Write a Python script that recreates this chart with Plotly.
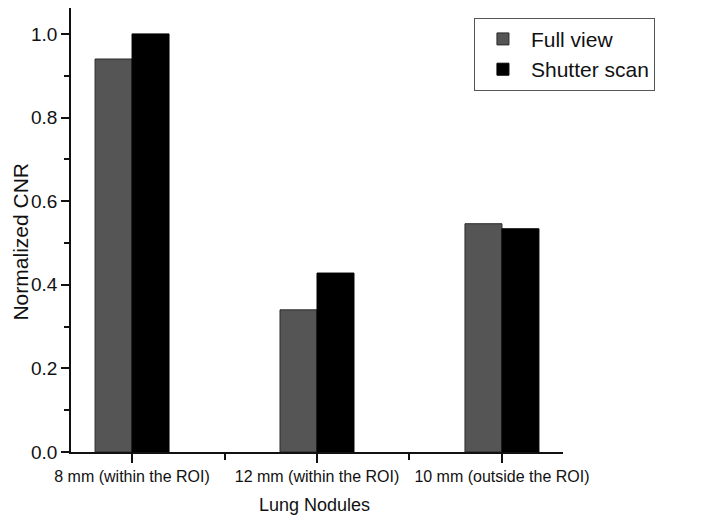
import plotly.graph_objects as go

# 폐결절 종류
categories = ["8 mm (within the ROI)", "12 mm (within the ROI)", "10 mm (outside the ROI)"]
full_view = [0.94, 0.34, 0.546]
shutter_scan = [1.0, 0.428, 0.534]

x_pos = list(range(len(categories)))

fig = go.Figure(
    data=[
        go.Bar(
            x=x_pos,
            y=full_view,
            name="Full view",
            marker=dict(color="#555555", line=dict(color="#2a2a2a", width=1)),
        ),
        go.Bar(
            x=x_pos,
            y=shutter_scan,
            name="Shutter scan",
            marker=dict(color="#000000", line=dict(color="#000000", width=1)),
        ),
    ]
)

# 페이지 body 여백(8px) 고려해서 크기 축소
fig.update_layout(
    width=693,
    height=508,
    barmode="group",
    bargap=0.6,
    bargroupgap=0,
    plot_bgcolor="white",
    paper_bgcolor="white",
    font=dict(family="Liberation Sans, Arial", size=16, color="#111111"),
    margin=dict(l=63, r=138, t=0, b=64),
    showlegend=True,
    legend=dict(
        x=0.819,
        y=0.978,
        xanchor="left",
        yanchor="top",
        bordercolor="#555555",
        borderwidth=1,
        font=dict(size=21),
        itemwidth=46,
        tracegroupgap=0,
    ),
    # 축 제목은 annotation 으로 직접 배치
    annotations=[
        dict(
            text="Normalized CNR",
            x=0,
            y=0.474,
            xref="paper",
            yref="paper",
            xanchor="center",
            yanchor="middle",
            xshift=-50,
            textangle=-90,
            showarrow=False,
            borderpad=0,
            font=dict(size=21),
        ),
        dict(
            text="Lung Nodules",
            x=0.495,
            y=0,
            xref="paper",
            yref="paper",
            xanchor="center",
            yanchor="middle",
            yshift=-53,
            showarrow=False,
            font=dict(size=18),
        ),
    ],
)

fig.update_xaxes(
    range=[-0.33, 2.33],
    tickvals=x_pos,
    ticktext=categories,
    automargin=False,
    showline=True,
    linecolor="#111111",
    linewidth=1.5,
    ticks="outside",
    ticklen=9,
    tickwidth=1.5,
    tickcolor="#111111",
    minor=dict(tickvals=[0.5, 1.5], ticks="outside", ticklen=6, tickwidth=1.5, tickcolor="#111111"),
    showgrid=False,
    zeroline=False,
)

fig.update_yaxes(
    range=[0, 1.062],
    tickvals=[0, 0.2, 0.4, 0.6, 0.8, 1.0],
    tickformat=".1f",
    tickfont=dict(size=19),
    automargin=False,
    showline=True,
    linecolor="#111111",
    linewidth=1.5,
    ticks="outside",
    ticklen=8,
    tickwidth=1.5,
    tickcolor="#111111",
    minor=dict(dtick=0.1, ticks="outside", ticklen=5, tickwidth=1.5, tickcolor="#111111"),
    showgrid=False,
    zeroline=False,
)

fig.write_html("out.html")
